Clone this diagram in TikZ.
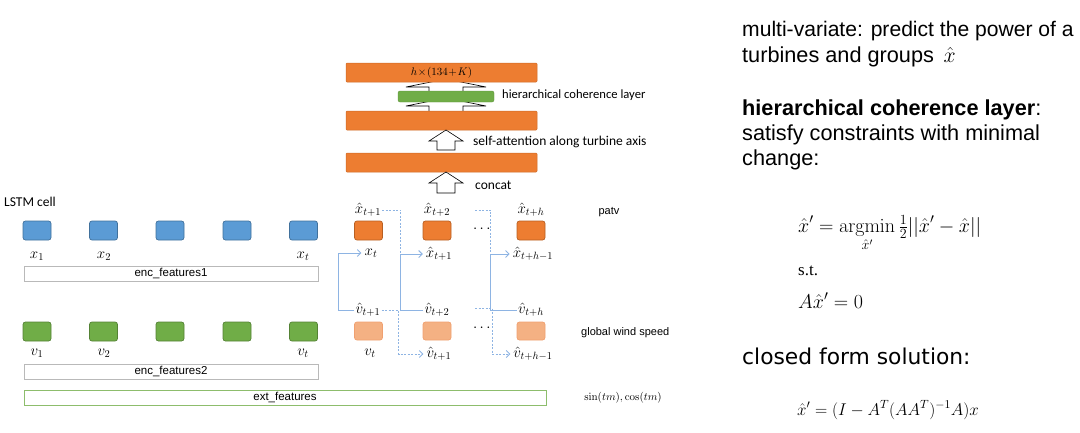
\RequirePackage{fix-cm}
\documentclass[tikz,border=0pt]{standalone}
\usepackage{amsmath}
\usepackage[no-math]{fontspec}
\setmainfont{Liberation Sans}
\newfontfamily\calib{Carlito}
\newfontfamily\dejavu{DejaVu Sans}
\newfontfamily\timesf{Liberation Serif}
\usetikzlibrary{arrows.meta}

\definecolor{ppOrange}{HTML}{ED7D31}
\definecolor{ppOrangeD}{HTML}{B85F22}
\definecolor{ppBlue}{HTML}{5B9BD5}
\definecolor{ppBlueD}{HTML}{41719C}
\definecolor{ppGreen}{HTML}{70AD47}
\definecolor{ppGreenD}{HTML}{548235}
\definecolor{ppPeach}{HTML}{F4B183}
\definecolor{ppPeachD}{HTML}{F0A070}
\definecolor{ppLine}{HTML}{8EB4E3}

\tikzset{
	cell/.style={rounded corners=2.5pt, minimum width=28pt, minimum height=19pt, inner sep=0pt, line width=0.7pt},
	feat/.style={draw=gray!55, line width=1pt, minimum height=15pt, inner sep=0pt, font=\fontsize{11.5}{13}\selectfont},
	bar/.style={fill=ppOrange, draw=ppOrangeD!60!ppOrange, line width=0.5pt, minimum width=191pt, minimum height=19pt, inner sep=0pt, rounded corners=1pt},
	lbl/.style={inner sep=1pt, font=\fontsize{15}{17}\selectfont},
	small/.style={inner sep=0pt, font=\calib\fontsize{13.5}{15}\selectfont},
	arial/.style={inner sep=0pt, font=\fontsize{11}{13}\selectfont},
	big/.style={inner sep=0pt, anchor=base west, font=\fontsize{21.7}{25}\selectfont},
	formula/.style={inner sep=0pt, anchor=base west, font=\fontsize{17}{20}\selectfont},
	feed/.style={draw=ppLine, line width=0.9pt, -{Straight Barb[length=3.5pt,width=7pt]}, shorten >=2pt},
	carry/.style={draw=ppLine, line width=0.9pt, dash pattern=on 2pt off 1.5pt},
}

% hohler Blockpfeil nach oben: x, Schaft/2, Kopf/2, Spitze, Kopfbasis, Ende
\newcommand{\fatarrow}[6]{%
	\draw[fill=white, line width=0.6pt] (#1-#2,#6) -- (#1-#2,#5) -- (#1-#3,#5) -- (#1,#4)
		-- (#1+#3,#5) -- (#1+#2,#5) -- (#1+#2,#6) -- cycle;}

\begin{document}
\begin{tikzpicture}[x=1pt,y=-1pt]
	\useasboundingbox (0,0) rectangle (1080,432);

	%Stapel oben
	\fatarrow{446}{17}{40}{79}{87}{94}
	\fatarrow{446}{17}{40}{98}{106}{113}
	\node[bar] (top) at (441.5,72.5) {\fontsize{11}{13}\selectfont$h\!\times\!(134\!+\!K)$};
	\node[fill=ppGreen, draw=ppGreenD!60!ppGreen, rounded corners=2pt, minimum width=96pt, minimum height=11pt, inner sep=0pt] (hcl) at (446,96.5) {};
	\node[bar] (att) at (441.5,120.5) {};
	\node[bar] (cat) at (441.5,162.5) {};
	\fatarrow{446}{9}{17}{130}{141}{150}
	\fatarrow{446}{9}{17}{172}{183}{193}
	\node[small, anchor=west, font=\calib\fontsize{12.6}{15}\selectfont] (hcltxt) at (502,95) {hierarchical coherence layer};
	\node[small, anchor=west] (atttxt) at (473,142) {self-attention along turbine axis};
	\node[small, anchor=west] (cattxt) at (475,185) {concat};

	%LSTM Zellen
	\node[small, anchor=base west] (lstm) at (4,206) {LSTM cell};
	\foreach \i/\xx in {1/37,2/103.5,3/170,4/237,5/303.5} {
		\node[cell, fill=ppBlue, draw=ppBlueD] (b\i) at (\xx,230.5) {};
		\node[cell, fill=ppGreen, draw=ppGreenD] (g\i) at (\xx,331.5) {};
	}
	\node[lbl] (x1) at (37,256) {$x_1$};
	\node[lbl] (x2) at (104,256) {$x_2$};
	\node[lbl] (x5) at (303,256) {$x_t$};
	\node[lbl] (v1) at (37,353) {$v_1$};
	\node[lbl] (v2) at (104,353) {$v_2$};
	\node[lbl] (v5) at (303,353) {$v_t$};

	%Merkmale
	\node[feat, minimum width=294pt] (enc1) at (171,273.5) {enc\_features1};
	\node[feat, minimum width=294pt] (enc2) at (171,371.5) {enc\_features2};
	\node[feat, draw=ppGreen!80, minimum width=522pt] (ext) at (285,397.5) {ext\_features};
	\node[arial] (sc) at (623,398) {\fontsize{11}{13}\selectfont$\sin(tm),\cos(tm)$};

	%Decoder patv
	\node[cell, fill=ppOrange, draw=ppOrangeD] (r1) at (368.5,230.5) {};
	\node[cell, fill=ppOrange, draw=ppOrangeD] (r2) at (437,230.5) {};
	\node[cell, fill=ppOrange, draw=ppOrangeD] (r3) at (531,230.5) {};
	\node[lbl] (xh1) at (368,210) {$\hat{x}_{t+1}$};
	\node[lbl] (xh2) at (437,210) {$\hat{x}_{t+2}$};
	\node[lbl] (xh3) at (531,210) {$\hat{x}_{t+h}$};
	\node[lbl] (xi1) at (371,253) {$x_t$};
	\node[lbl] (xi2) at (439,254) {$\hat{x}_{t+1}$};
	\node[lbl] (xi3) at (533,254) {$\hat{x}_{t+h-1}$};
	\node[lbl] (rdots) at (483,229) {$\cdots$};
	\node[arial] (patv) at (609,212) {patv};

	%Decoder Wind
	\node[cell, fill=ppPeach, draw=ppPeachD, minimum height=18pt] (q1) at (368.5,331) {};
	\node[cell, fill=ppPeach, draw=ppPeachD, minimum height=18pt] (q2) at (437,331) {};
	\node[cell, fill=ppPeach, draw=ppPeachD, minimum height=18pt] (q3) at (531,331) {};
	\node[lbl] (vh1) at (368,310) {$\hat{v}_{t+1}$};
	\node[lbl] (vh2) at (437,310) {$\hat{v}_{t+2}$};
	\node[lbl] (vh3) at (531,310) {$\hat{v}_{t+h}$};
	\node[lbl] (vi1) at (370,353) {$v_t$};
	\node[lbl] (vi2) at (439,354) {$\hat{v}_{t+1}$};
	\node[lbl] (vi3) at (533,354) {$\hat{v}_{t+h-1}$};
	\node[lbl] (qdots) at (483,328) {$\cdots$};
	\node[arial, anchor=west] (gws) at (581,333) {global wind speed};

	%Rueckkopplung
	\coordinate (k1) at ([xshift=-25pt]xi1.west);
	\coordinate (k2) at ([xshift=-24pt]xi2.west);
	\coordinate (k3) at ([xshift=-21pt]xi3.west);
	\coordinate (d1) at (475,210);
	\coordinate (d2) at (475,308);
	\draw[feed] (vh1.west) -| (k1) -- (xi1.west);
	\draw[feed] (vh2.west) -| (k2) -- (xi2.west);
	\draw[feed] (vh3.west) -| (k3) -- (xi3.west);
	\draw[carry] (xh1.east) -| (k2);
	\draw[carry] (d1) -| (k3);
	\draw[carry, -{Straight Barb[length=3.5pt,width=7pt]}, shorten >=2pt] (vh1.east) -- ++(17,0) |- (vi2.west);
	\draw[carry, -{Straight Barb[length=3.5pt,width=7pt]}, shorten >=2pt] (d2) -- ++(17,0) |- (vi3.west);

	%Text rechts
	\node[big, font=\fontsize{21.1}{25}\selectfont] (t1) at (742,36) {multi-variate: predict the power of a};
	\node[big] (t2) at (742,62) {turbines and groups \,$\hat{x}$};
	\node[big] (t3) at (742,115) {\bfseries hierarchical coherence layer\mdseries:};
	\node[big] (t4) at (742,140) {satisfy constraints with minimal};
	\node[big] (t5) at (742,165) {change:};
	\node[formula, font=\fontsize{20}{22}\selectfont] (f1) at (798,232) {$\displaystyle \hat{x}' = \operatorname*{argmin}_{\hat{x}'} \tfrac{1}{2}||\hat{x}' - \hat{x}||$};
	\node[formula] (f2) at (798,275) {\timesf s.t.};
	\node[formula, font=\fontsize{20}{22}\selectfont] (f3) at (798,308) {$A\hat{x}' = 0$};
	\node[big, font=\dejavu\fontsize{21.8}{25}\selectfont] (t6) at (742,364) {closed form solution:};
	\node[formula] (f4) at (797,415) {$\hat{x}' = (I - A^T(AA^T)^{-1}A)x$};
\end{tikzpicture}
\end{document}
